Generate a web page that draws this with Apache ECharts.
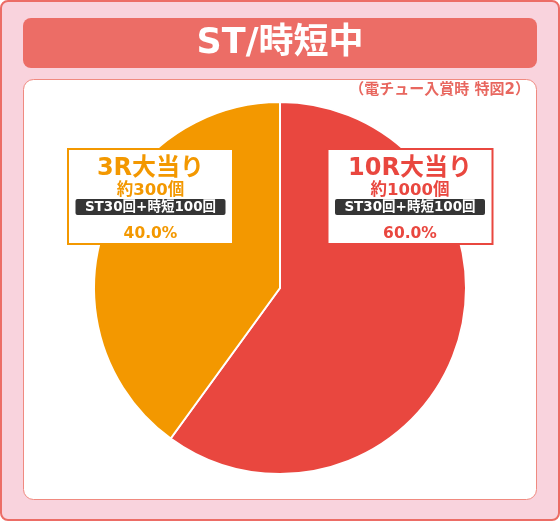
<!DOCTYPE html>
<html>
<head>
<meta charset="utf-8">
<script src="https://cdn.jsdelivr.net/npm/echarts@6/dist/echarts.min.js"></script>
<style>
html,body{margin:0;padding:0;background:#fff;}
#c{width:560px;height:523px;}
</style>
</head>
<body>
<div id="c"></div>
<script>
const title = 'ST/時短中';
const subtitle = '（電チュー入賞時 特図2）';
const categories = ['10R大当り', '3R大当り'];
const values = [60, 40];
const counts = ['約1000個', '約300個'];
const notes = ['ST30回+時短100回', 'ST30回+時短100回'];
const colors = ['#E9473F', '#F39800'];

const labelPos = [[410, 196.5], [150.5, 196.5]];
const FONT = '"DejaVu Sans", "Noto Sans CJK JP", sans-serif';

const chart = echarts.init(document.getElementById('c'), null, {renderer: 'canvas'});

const data = categories.map((name, i) => ({
  name: name,
  value: values[i],
  itemStyle: {color: colors[i]},
  label: {
    borderColor: colors[i],
    rich: {
      t: {fontSize: 24, fontWeight: 'bold', color: colors[i], lineHeight: 28, fontFamily: FONT},
      s: {fontSize: 16.5, fontWeight: 'bold', color: colors[i], lineHeight: 16, fontFamily: FONT},
      b: {fontSize: 13.5, fontWeight: 'bold', color: '#fff', backgroundColor: '#353535', borderRadius: 2,
          width: 136, height: 14, padding: [1, 7], align: 'center', lineHeight: 16, fontFamily: FONT},
      p: {fontSize: 15.5, fontWeight: 'bold', color: colors[i], lineHeight: 27, padding: [11, 0, 0, 0], fontFamily: FONT}
    }
  }
}));

const total = values.reduce((a, b) => a + b, 0);

chart.setOption({
  animation: false,
  textStyle: {fontFamily: FONT},
  graphic: [
    {type: 'rect', z: 0, shape: {x: 1, y: 1, width: 558, height: 519, r: 7},
     style: {fill: '#F9D3DD', stroke: '#EC6D66', lineWidth: 2}},
    {type: 'rect', z: 1, shape: {x: 23, y: 18, width: 514, height: 50, r: 8},
     style: {fill: '#EC6D66'}},
    {type: 'text', z: 2, x: 280, y: 44,
     style: {text: title, fill: '#fff', font: 'bold 35px ' + FONT, textAlign: 'center', textVerticalAlign: 'middle'}},
    {type: 'rect', z: 1, shape: {x: 23.5, y: 79.5, width: 513, height: 420, r: 10},
     style: {fill: '#fff', stroke: '#F08A80', lineWidth: 1}},
    {type: 'text', z: 2, x: 530, y: 90.5,
     style: {text: subtitle, fill: '#E8675F', font: 'bold 15px ' + FONT, textAlign: 'right', textVerticalAlign: 'middle'}}
  ],
  series: [{
    type: 'pie',
    z: 5,
    center: [280, 288],
    radius: 186,
    startAngle: 90,
    clockwise: true,
    silent: true,
    emphasis: {disabled: true},
    itemStyle: {borderColor: '#fff', borderWidth: 2},
    labelLine: {show: false},
    label: {
      show: true,
      position: 'inside',
      formatter: p => `{t|${p.name}}\n{s|${counts[p.dataIndex]}}\n{b|${notes[p.dataIndex]}}\n{p|${(p.value / total * 100).toFixed(1)}%}`,
      backgroundColor: '#fff',
      borderWidth: 2,
      padding: [5, 0, 1, 0],
      width: 163,
      align: 'center',
      verticalAlign: 'middle'
    },
    labelLayout: p => ({x: labelPos[p.dataIndex][0], y: labelPos[p.dataIndex][1], align: 'center', verticalAlign: 'middle'}),
    data: data
  }]
});
</script>
</body>
</html>
